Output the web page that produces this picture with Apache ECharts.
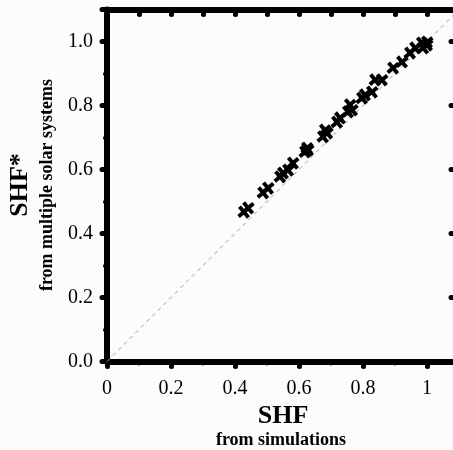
<!DOCTYPE html>
<html>
<head>
<meta charset="utf-8">
<script src="https://cdn.jsdelivr.net/npm/echarts@6/dist/echarts.min.js"></script>
<style>
html,body{margin:0;padding:0;background:#fcfcfc;}
#chart{width:453px;height:450px;}
</style>
</head>
<body>
<div id="chart"></div>
<script>
// SHF from simulations (x) vs SHF* from multiple solar systems (y)
var shfSim = [0.428,0.441,0.488,0.503,0.541,0.550,0.566,0.581,0.619,0.625,0.628,0.675,0.688,0.681,0.719,0.728,0.753,0.766,0.759,0.797,0.806,0.828,0.838,0.859,0.894,0.922,0.947,0.963,0.984,1.000,0.988,1.000];
var shfStar = [0.467,0.480,0.527,0.542,0.577,0.589,0.598,0.620,0.655,0.667,0.661,0.702,0.714,0.723,0.748,0.761,0.780,0.786,0.802,0.823,0.833,0.842,0.880,0.880,0.917,0.936,0.964,0.980,0.995,0.998,0.980,0.989];
var diagonal = [0, 1.1];
var xTickLabels = ['0','0.2','0.4','0.6','0.8','1'];
var yTickLabels = ['0.0','0.2','0.4','0.6','0.8','1.0'];

var pts = shfSim.map(function(x,i){return [x, shfStar[i]];});
var fontSerif = '"Liberation Serif", "DejaVu Serif", serif';

function lbl(arr){
  return function(v){
    var k = Math.round(v/0.2);
    if (Math.abs(v - k*0.2) > 1e-6 || k > 5) return '';
    return arr[k];
  };
}

var chart = echarts.init(document.getElementById('chart'), null, {renderer:'canvas'});
chart.setOption({
  backgroundColor:'#fcfcfc',
  animation:false,
  grid:{left:107, right:-6, top:9.5, bottom:88.5, containLabel:false, outerBoundsMode:'none'},
  xAxis:[
    {type:'value', position:'bottom', min:0, max:1.1, interval:0.2,
     axisLine:{onZero:false, lineStyle:{color:'#000', width:6}},
     axisTick:{show:true, inside:false, length:5, lineStyle:{color:'#000', width:5, cap:'round'}},
     axisLabel:{formatter:lbl(xTickLabels), color:'#000', fontFamily:fontSerif, fontSize:20, margin:17},
     splitLine:{show:false}},
    {type:'value', position:'bottom', min:0, max:1.1, interval:0.1,
     axisLine:{show:false, onZero:false},
     axisTick:{show:true, inside:false, length:2, lineStyle:{color:'#000', width:4, cap:'round'}},
     axisLabel:{show:false}, splitLine:{show:false}},
    {type:'value', position:'top', min:0, max:1.1, interval:0.1,
     axisLine:{onZero:false, lineStyle:{color:'#000', width:6}},
     axisTick:{show:true, inside:true, length:5, lineStyle:{color:'#000', width:5, cap:'round'}},
     axisLabel:{show:false}, splitLine:{show:false}}
  ],
  yAxis:[
    {type:'value', position:'left', min:0, max:1.1, interval:0.2,
     axisLine:{onZero:false, lineStyle:{color:'#000', width:6}},
     axisTick:{show:true, inside:false, length:5, lineStyle:{color:'#000', width:5, cap:'round'}},
     axisLabel:{formatter:lbl(yTickLabels), color:'#000', fontFamily:fontSerif, fontSize:20, margin:14},
     splitLine:{show:false}},
    {type:'value', position:'left', min:0, max:1.1, interval:0.1,
     axisLine:{show:false, onZero:false},
     axisTick:{show:true, inside:false, length:2, lineStyle:{color:'#000', width:4, cap:'round'}},
     axisLabel:{show:false}, splitLine:{show:false}},
    {type:'value', position:'right', min:0, max:1.1, interval:0.2,
     axisLine:{onZero:false, lineStyle:{color:'#000', width:6}},
     axisTick:{show:true, inside:true, length:8, lineStyle:{color:'#000', width:5, cap:'round'}},
     axisLabel:{show:false}, splitLine:{show:false}}
  ],
  series:[
    {type:'line', xAxisIndex:0, yAxisIndex:0, data:[[diagonal[0],diagonal[0]],[diagonal[1],diagonal[1]]],
     symbol:'none', silent:true, lineStyle:{color:'#999', width:1, type:[4,4]}, z:1},
    {type:'scatter', xAxisIndex:0, yAxisIndex:0, data:pts,
     symbol:'path://M3.6,0 H6.4 V3.6 H10 V6.4 H6.4 V10 H3.6 V6.4 H0 V3.6 H3.6 Z',
     symbolSize:14, symbolRotate:40,
     itemStyle:{color:'#000', opacity:1}, z:3}
  ],
  graphic:[
    {type:'text', x:283, y:416, style:{text:'SHF', font:'bold 26px '+fontSerif, fill:'#000', align:'center', verticalAlign:'middle'}},
    {type:'text', x:281, y:440, style:{text:'from simulations', font:'bold 18px '+fontSerif, fill:'#000', align:'center', verticalAlign:'middle'}},
    {type:'text', x:20, y:185, rotation:Math.PI/2, style:{text:'SHF*', font:'bold 26px '+fontSerif, fill:'#000', align:'center', verticalAlign:'middle'}},
    {type:'text', x:47, y:185, rotation:Math.PI/2, style:{text:'from multiple solar systems', font:'bold 18px '+fontSerif, fill:'#000', align:'center', verticalAlign:'middle'}}
  ]
});
</script>
</body>
</html>
